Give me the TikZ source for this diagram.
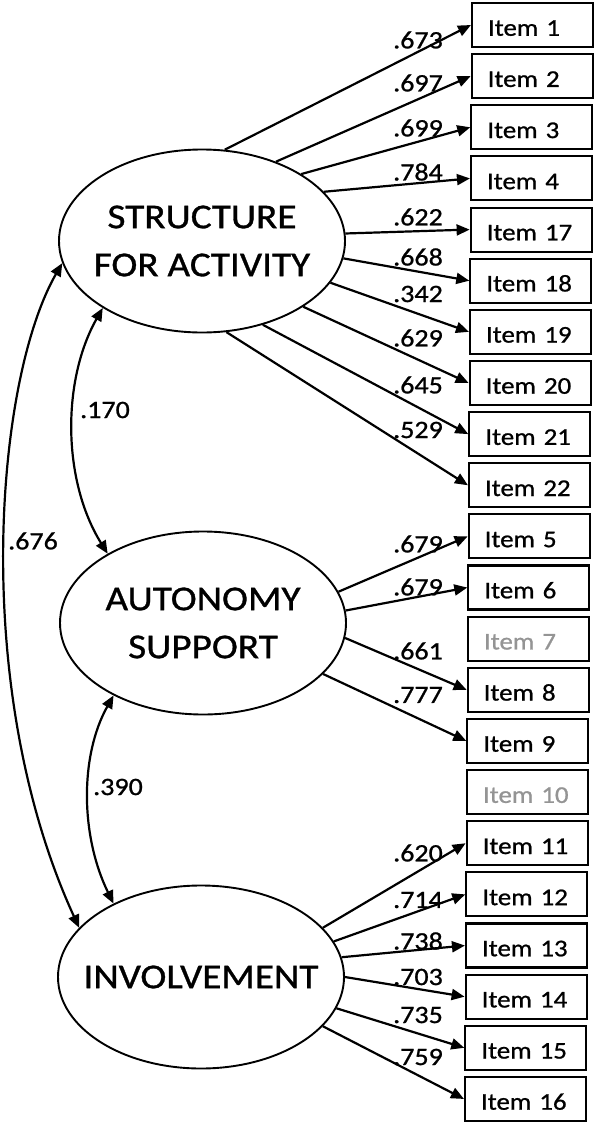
\documentclass[tikz,border=0pt]{standalone}
\usepackage{fontspec}
\setmainfont{Carlito}[FakeStretch=1.12,FakeBold=0.9]
\usetikzlibrary{arrows.meta,shapes.geometric}
\begin{document}
\begin{tikzpicture}[x=1pt,y=-1pt,
  latent/.style={ellipse,draw,line width=1.9pt,minimum width=286pt,minimum height=183pt,inner sep=0pt},
  ltext/.style={align=center,font=\fontsize{35}{48}\selectfont,inner sep=0pt},
  itembox/.style={draw,line width=2.1pt,minimum height=44pt,text width=89pt,align=left,inner xsep=16pt,inner ysep=0pt,text height=21.5pt,text depth=0pt,font=\fontsize{24}{24}\selectfont},
  load/.style={line width=2.2pt,-{Triangle[length=13pt,width=11pt]}},
  cov/.style={line width=2.2pt,{Triangle[length=13pt,width=11pt]}-{Triangle[length=13pt,width=11pt]}},
  coef/.style={font=\fontsize{25}{25}\selectfont,inner sep=0pt}
]
\useasboundingbox (0,0) rectangle (596,1125);

% latent factors
\node[latent] (S) at (202,241) {};
\node[ltext] (St) at (S.center) {STRUCTURE\\FOR ACTIVITY};
\node[latent] (A) at (203,623) {};
\node[ltext] (At) at (A.center) {AUTONOMY\\SUPPORT};
\node[latent] (I) at (201,977) {};
\node[ltext] (It) at (I.center) {INVOLVEMENT};

% items
\foreach \n/\k/\c in {1/0/black,2/1/black,3/2/black,4/3/black,17/4/black,18/5/black,19/6/black,20/7/black,21/8/black,22/9/black,5/10/black,6/11/black,7/12/black!42,8/13/black,9/14/black,10/15/black!42,11/16/black,12/17/black,13/18/black,14/19/black,15/20/black,16/21/black}{
  \node[itembox,text=\c] (i\n) at ({532.5-\k/3},{25+51.14*\k}) {Item \n};
}

% loadings
\foreach \a/\t/\v/\y in {76/1/.673/40,47/2/.697/83,34/3/.699/128,22/4/.784/172,3/17/.622/217,353/18/.668/257,342/19/.342/294,327/20/.629/338,306/21/.645/385,285/22/.529/430}{
  \draw[load] (S.\a) -- (i\t.west);
  \node[coef] (c\t) at (418,\y) {\v};
}
\foreach \a/\t/\v/\y in {13/5/.679/544,5/6/.679/587,354/8/.661/651,337/9/.777/695}{
  \draw[load] (A.\a) -- (i\t.west);
  \node[coef] (c\t) at (418,\y) {\v};
}
\foreach \a/\t/\v/\y in {22/11/.620/853,15/12/.714/900,8/13/.738/941,0/14/.703/977,347/15/.735/1015,338/16/.759/1057}{
  \draw[load] (I.\a) -- (i\t.west);
  \node[coef] (c\t) at (418,\y) {\v};
}

% covariances
\draw[cov] (S.189) .. controls (-5,380) and (-30,690) .. (I.158);
\node[coef] (cSI) at (33,541) {.676};
\draw[cov] (S.214) .. controls (62,380) and (62,480) .. (A.144);
\node[coef] (cSA) at (105,410) {.170};
\draw[cov] (A.219) .. controls (80,755) and (80,835) .. (I.140);
\node[coef] (cAI) at (118,787) {.390};
\end{tikzpicture}
\end{document}
